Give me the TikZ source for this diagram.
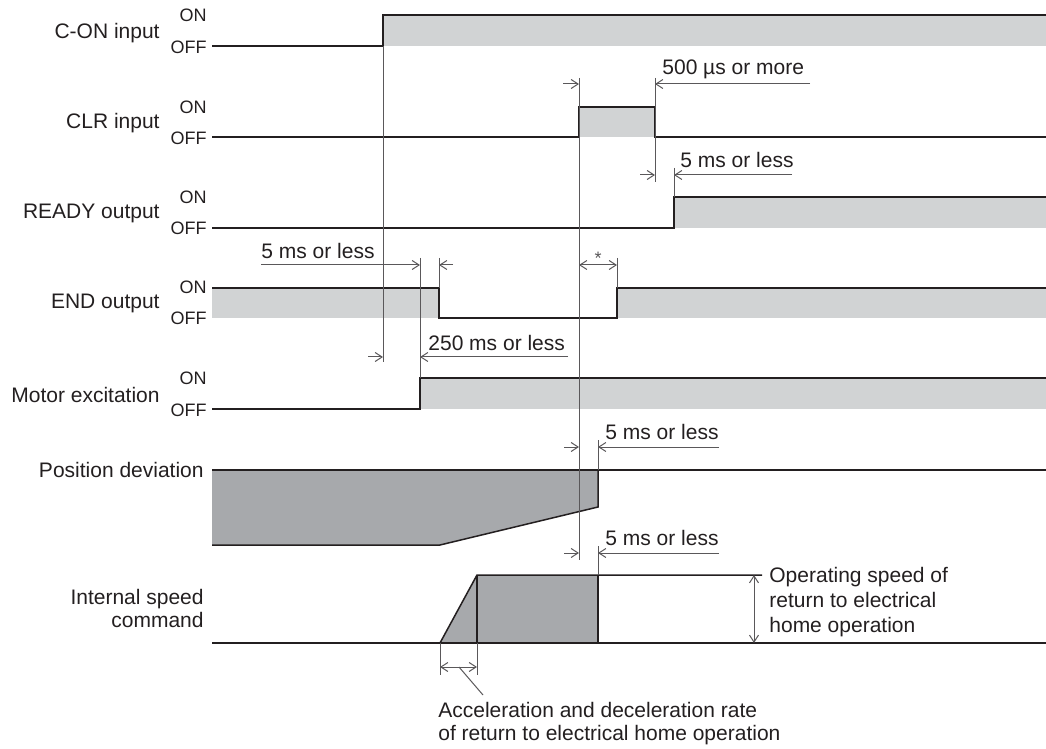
\documentclass[tikz,border=0pt]{standalone}
\usepackage{fontspec}
\setmainfont{Liberation Sans}
\usetikzlibrary{arrows.meta}
\definecolor{lightg}{RGB}{209,211,212}
\definecolor{darkg}{RGB}{167,169,172}
\definecolor{ink}{RGB}{35,31,32}
\definecolor{dimc}{RGB}{90,88,90}
\begin{document}
\begin{tikzpicture}[x=0.5pt,y=-0.5pt,
  sig/.style={draw=ink, line width=0.75pt},
  ext/.style={draw=dimc, line width=0.5pt},
  dimline/.style={draw=dimc, line width=0.5pt, -{Straight Barb[length=3.5pt,width=4.5pt]}},
  dimboth/.style={draw=dimc, line width=0.5pt, {Straight Barb[length=3.5pt,width=4.5pt]}-{Straight Barb[length=3.5pt,width=4.5pt]}},
  lbl/.style={font=\fontsize{10.5}{11.5}\selectfont, text=ink, inner sep=0pt},
  lev/.style={font=\fontsize{9}{10}\selectfont, text=ink, inner sep=0pt, anchor=east},
  dtext/.style={lbl, anchor=west}
]
\useasboundingbox (0,0) rectangle (1046,749);

% ---------- C-ON input
\fill[lightg] (383,15) rectangle (1046,46);
\draw[sig] (212,46) -- (383,46) -- (383,15) -- (1046,15);
\node[lbl, anchor=east] (lcon) at (160,33) {C-ON input};
\node[lev] (lconon) at (207,15) {ON};
\node[lev] (lconoff) at (207,47) {OFF};

% ---------- CLR input
\fill[lightg] (579,107) rectangle (655,137);
\draw[sig] (212,137) -- (579,137) -- (579,107) -- (655,107) -- (655,137) -- (1046,137);
\node[lbl, anchor=east] (lclr) at (160,123) {CLR input};
\node[lev] (lclron) at (207,107) {ON};
\node[lev] (lclroff) at (207,138) {OFF};

% ---------- READY output
\fill[lightg] (674,197) rectangle (1046,228);
\draw[sig] (212,228) -- (674,228) -- (674,197) -- (1046,197);
\node[lbl, anchor=east] (lrdy) at (160,213) {READY output};
\node[lev] (lrdyon) at (207,197) {ON};
\node[lev] (lrdyoff) at (207,228) {OFF};

% ---------- END output
\fill[lightg] (212,288) rectangle (439,318);
\fill[lightg] (617,288) rectangle (1046,318);
\draw[sig] (212,288) -- (439,288) -- (439,318) -- (617,318) -- (617,288) -- (1046,288);
\node[lbl, anchor=east] (lend) at (160,303) {END output};
\node[lev] (lendon) at (207,287) {ON};
\node[lev] (lendoff) at (207,318) {OFF};

% ---------- Motor excitation
\fill[lightg] (420,378) rectangle (1046,409);
\draw[sig] (212,409) -- (420,409) -- (420,378) -- (1046,378);
\node[lbl, anchor=east] (lmot) at (160,395) {Motor excitation};
\node[lev] (lmoton) at (207,378) {ON};
\node[lev] (lmotoff) at (207,410) {OFF};

% ---------- Position deviation
\fill[darkg] (212,470) -- (598,470) -- (598,507) -- (440,545) -- (212,545) -- cycle;
\draw[sig] (212,470) -- (1046,470);
\draw[sig] (212,545) -- (440,545) -- (598,507) -- (598,470);
\node[lbl, anchor=east] (lpos) at (204,470) {Position deviation};

% ---------- Internal speed command
\fill[darkg] (440,643) -- (477,575) -- (598,575) -- (598,643) -- cycle;
\draw[sig] (212,643) -- (1046,643);
\draw[sig] (440,643) -- (477,575) -- (762,575);
\draw[sig] (598,575) -- (598,643);
\draw[sig] (477,575) -- (477,643);
\node[lbl, anchor=east, align=right] (lspd) at (204,608) {Internal speed\\command};

% ---------- extension lines
\draw[ext] (383,46) -- (383,362);
\draw[ext] (579,78) -- (579,560);
\draw[ext] (655,78) -- (655,182);
\draw[ext] (674,168) -- (674,197);
\draw[ext] (420,258) -- (420,378);
\draw[ext] (439,258) -- (439,288);
\draw[ext] (617,258) -- (617,288);
\draw[ext] (598,440) -- (598,470);
\draw[ext] (598,546) -- (598,575);
\draw[ext] (440,643) -- (440,675);
\draw[ext] (477,643) -- (477,675);

% ---------- dimensions
% 500 us or more
\draw[dimline] (563,84) -- (579,84);
\draw[dimline] (810,84) -- (655,84);
\node[dtext] (t500) at (662,69) {500 µs or more};
% 5 ms (READY)
\draw[dimline] (640,175) -- (655,175);
\draw[dimline] (792,175) -- (674,175);
\node[dtext] (t5a) at (680,160) {5 ms or less};
% 5 ms (END)
\draw[dimline] (261,265) -- (420,265);
\draw[dimline] (453,265) -- (439,265);
\node[dtext] (t5b) at (261,251) {5 ms or less};
% *
\draw[dimboth] (579,265) -- (617,265);
\node[font=\fontsize{9}{10}\selectfont, text=dimc, inner sep=0pt] (tstar) at (598,258) {*};
% 250 ms
\draw[dimline] (368,357) -- (383,357);
\draw[dimline] (568,357) -- (420,357);
\node[dtext] (t250) at (428,343) {250 ms or less};
% 5 ms (position deviation)
\draw[dimline] (564,447) -- (579,447);
\draw[dimline] (719,447) -- (598,447);
\node[dtext] (t5c) at (605,432) {5 ms or less};
% 5 ms (speed)
\draw[dimline] (564,553) -- (579,553);
\draw[dimline] (719,553) -- (598,553);
\node[dtext] (t5d) at (605,538) {5 ms or less};
% acceleration
\draw[dimboth] (440,667) -- (477,667);
\coordinate (accmid) at (459,667);
\node[lbl, anchor=north west, align=left] (tacc) at (438,702) {Acceleration and deceleration rate\\of return to electrical home operation};
\draw[ext] (accmid) -- (483,695);
% operating speed
\draw[dimboth] (754,575) -- (754,643);
\node[lbl, anchor=west, align=left, font=\fontsize{10.5}{12.3}\selectfont] (topr) at (769,602) {Operating speed of\\return to electrical\\home operation};
\end{tikzpicture}
\end{document}
